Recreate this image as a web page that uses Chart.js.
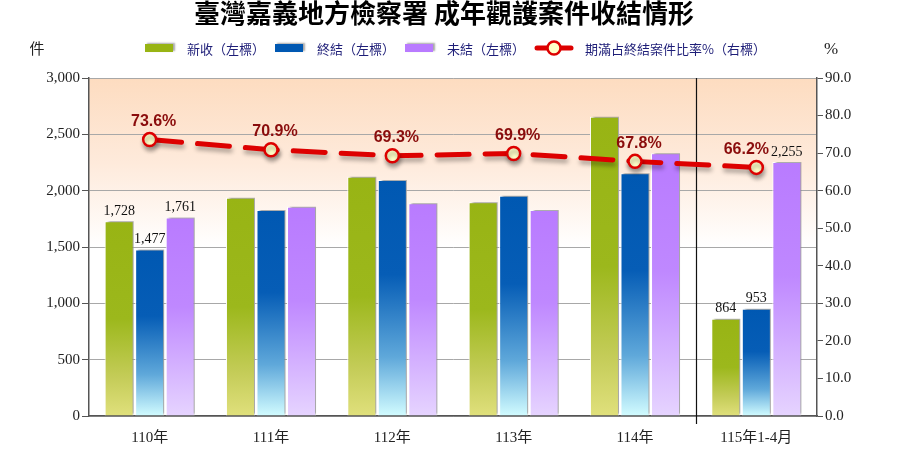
<!DOCTYPE html>
<html>
<head>
<meta charset="utf-8">
<script src="https://cdn.jsdelivr.net/npm/chart.js@4.4.1/dist/chart.umd.min.js"></script>
<style>
  html, body { margin: 0; padding: 0; background: #fff; }
  #wrap { width: 900px; height: 450px; }
</style>
</head>
<body>
<div id="wrap"><canvas id="chart" width="900" height="450"></canvas></div>
<script>
const categories = ['110年', '111年', '112年', '113年', '114年', '115年1-4月'];
const newCases = [1728, 1938, 2124, 1897, 2657, 864];
const closedCases = [1477, 1828, 2094, 1955, 2154, 953];
const pendingCases = [1761, 1857, 1889, 1828, 2332, 2255];
const expiredRatio = [73.6, 70.9, 69.3, 69.9, 67.8, 66.2];
const labelledIndexes = [0, 5]; // only these groups show their bar values

const titleText = '臺灣嘉義地方檢察署 成年觀護案件收結情形';
const seriesNames = ['新收（左標）', '終結（左標）', '未結（左標）', '期滿占終結案件比率%（右標）'];

const cjk = '"Noto Sans CJK TC", "Noto Sans", sans-serif';
const serif = '"Liberation Serif", "Noto Sans CJK TC", serif';

// gradient stops for each bar series, from bar top (0) to the axis (1)
const greenStops = [[0, '#98b414'], [0.5, '#9cb81c'], [0.8, '#c4cc58'], [1, '#e0e07c']];
const blueStops = [[0, '#0058b2'], [0.4, '#065db6'], [0.75, '#5fa8da'], [1, '#d2fcff']];
const purpleStops = [[0, '#b97bff'], [0.45, '#bf88ff'], [1, '#e6d4ff']];

function barFill(stops) {
    return function(context) {
        const chart = context.chart;
        const area = chart.chartArea;
        if (!area || context.type !== 'data') return stops[0][1];
        const yTop = chart.scales.y.getPixelForValue(context.raw);
        const g = chart.ctx.createLinearGradient(0, yTop, 0, area.bottom);
        stops.forEach(s => g.addColorStop(s[0], s[1]));
        return g;
    };
}

const chartDecor = {
    id: 'chartDecor',
    beforeDraw(chart) {
        const ctx = chart.ctx;
        const a = chart.chartArea;
        ctx.save();
        ctx.fillStyle = '#ffffff';
        ctx.fillRect(0, 0, chart.width, chart.height);
        const g = ctx.createLinearGradient(0, a.top, 0, a.bottom);
        g.addColorStop(0, '#fddcc0');
        g.addColorStop(0.25, '#feeadb');
        g.addColorStop(0.5, '#ffffff');
        g.addColorStop(1, '#ffffff');
        ctx.fillStyle = g;
        ctx.fillRect(a.left, a.top, a.right - a.left, a.bottom - a.top);
        ctx.restore();
    },
    beforeDatasetsDraw(chart) {
        // divider between the full years and the partial year
        const ctx = chart.ctx;
        const a = chart.chartArea;
        const x = Math.round(chart.scales.x.getPixelForValue(4.5)) + 0.5;
        ctx.save();
        ctx.strokeStyle = '#111';
        ctx.lineWidth = 1.2;
        ctx.beginPath();
        ctx.moveTo(x, a.top);
        ctx.lineTo(x, a.bottom + 8);
        ctx.stroke();
        ctx.restore();
    },
    beforeDatasetDraw(chart, args) {
        const ctx = chart.ctx;
        ctx.save();
        if (args.meta.type === 'bar') {
            ctx.shadowColor = 'rgba(0,0,0,0.35)';
            ctx.shadowOffsetX = 3;
            ctx.shadowOffsetY = -2;
            ctx.shadowBlur = 2;
        } else {
            ctx.shadowColor = 'rgba(0,0,0,0.3)';
            ctx.shadowOffsetX = 1;
            ctx.shadowOffsetY = 4;
            ctx.shadowBlur = 4;
        }
    },
    afterDatasetDraw(chart) {
        chart.ctx.restore();
    },
    afterDatasetsDraw(chart) {
        const ctx = chart.ctx;
        ctx.save();
        // bar values
        ctx.font = '14px ' + serif;
        ctx.fillStyle = '#111';
        ctx.textAlign = 'center';
        ctx.textBaseline = 'bottom';
        [0, 1, 2].forEach(di => {
            const meta = chart.getDatasetMeta(di);
            const data = chart.data.datasets[di].data;
            labelledIndexes.forEach(i => {
                const bar = meta.data[i];
                ctx.fillText(data[i].toLocaleString('en-US'), bar.x, bar.y - 3);
            });
        });
        // ratio labels, the last one nudged left so it clears the bar value
        const lineMeta = chart.getDatasetMeta(3);
        ctx.font = 'bold 16px "Liberation Sans", Arial, sans-serif';
        ctx.fillStyle = '#8a0c0c';
        ctx.textBaseline = 'middle';
        lineMeta.data.forEach((pt, i) => {
            const dx = i === lineMeta.data.length - 1 ? -10 : 4;
            ctx.fillText(expiredRatio[i].toFixed(1) + '%', pt.x + dx, pt.y - 18);
        });
        ctx.restore();
    },
    afterDraw(chart) {
        const ctx = chart.ctx;
        ctx.save();
        // title
        ctx.font = 'bold 26px ' + cjk;
        ctx.fillStyle = '#000';
        ctx.textAlign = 'center';
        ctx.textBaseline = 'middle';
        ctx.fillText(titleText, 444, 13);

        // axis units
        ctx.font = '15px ' + cjk;
        ctx.fillStyle = '#222';
        ctx.fillText('件', 37, 48);
        ctx.font = '17px ' + serif;
        ctx.fillText('%', 831, 50);

        // legend
        const y = 48;
        let x = 145;
        const boxColors = ['#98b414', '#0058b2', '#b97bff'];
        ctx.font = '13px ' + cjk;
        ctx.textAlign = 'left';
        seriesNames.forEach((name, i) => {
            if (i < 3) {
                ctx.save();
                ctx.shadowColor = 'rgba(0,0,0,0.35)';
                ctx.shadowOffsetX = 2;
                ctx.shadowOffsetY = -1;
                ctx.shadowBlur = 2;
                ctx.fillStyle = boxColors[i];
                ctx.fillRect(x, y - 4, 28, 8);
                ctx.restore();
                x += 28 + 14;
            } else {
                ctx.save();
                ctx.strokeStyle = '#dd0000';
                ctx.lineWidth = 5;
                ctx.lineCap = 'round';
                ctx.beginPath();
                ctx.moveTo(x + 2, y);
                ctx.lineTo(x + 36, y);
                ctx.stroke();
                ctx.beginPath();
                ctx.arc(x + 19, y, 6.5, 0, Math.PI * 2);
                ctx.fillStyle = '#ffffc8';
                ctx.fill();
                ctx.lineWidth = 2.5;
                ctx.stroke();
                ctx.restore();
                x += 38 + 12;
            }
            ctx.fillStyle = '#1e1e78';
            ctx.fillText(name, x, y + 1);
            x += ctx.measureText(name).width + 10;
        });
        ctx.restore();
    }
};

new Chart(document.getElementById('chart'), {
    data: {
        labels: categories,
        datasets: [
            {
                type: 'bar',
                label: seriesNames[0],
                data: newCases,
                yAxisID: 'y',
                backgroundColor: barFill(greenStops),
                borderColor: '#ffffff',
                borderWidth: 1,
                order: 1
            },
            {
                type: 'bar',
                label: seriesNames[1],
                data: closedCases,
                yAxisID: 'y',
                backgroundColor: barFill(blueStops),
                borderColor: '#ffffff',
                borderWidth: 1,
                order: 1
            },
            {
                type: 'bar',
                label: seriesNames[2],
                data: pendingCases,
                yAxisID: 'y',
                backgroundColor: barFill(purpleStops),
                borderColor: '#ffffff',
                borderWidth: 1,
                order: 1
            },
            {
                type: 'line',
                label: seriesNames[3],
                data: expiredRatio,
                yAxisID: 'y1',
                borderColor: '#dd0000',
                borderWidth: 5,
                borderDash: [32, 16],
                borderCapStyle: 'round',
                tension: 0,
                pointRadius: 6.5,
                pointBorderWidth: 2.5,
                pointBackgroundColor: '#ffffc8',
                pointBorderColor: '#dd0000',
                order: 0
            }
        ]
    },
    options: {
        responsive: false,
        animation: false,
        layout: { padding: { top: 78, left: 0, right: 0, bottom: 0 } },
        datasets: {
            bar: { categoryPercentage: 0.755, barPercentage: 0.95 }
        },
        plugins: {
            legend: { display: false },
            title: { display: false },
            tooltip: { enabled: false }
        },
        scales: {
            x: {
                grid: { display: false },
                border: { color: '#555', width: 1.5 },
                ticks: { font: { family: serif, size: 15 }, color: '#222', padding: 5 },
                afterFit(scale) { scale.height = 34; }
            },
            y: {
                position: 'left',
                min: 0,
                max: 3000,
                ticks: {
                    stepSize: 500,
                    font: { family: serif, size: 15 },
                    color: '#222',
                    padding: 2,
                    callback: v => v.toLocaleString('en-US')
                },
                grid: { color: '#a8a8a8', tickColor: '#555', tickLength: 7 },
                border: { color: '#555', width: 1.5 },
                afterFit(scale) { scale.width = 89; }
            },
            y1: {
                position: 'right',
                min: 0,
                max: 90,
                ticks: {
                    stepSize: 10,
                    font: { family: serif, size: 15 },
                    color: '#222',
                    padding: 2,
                    callback: v => v.toFixed(1)
                },
                grid: { drawOnChartArea: false, color: '#555', tickLength: 6 },
                border: { color: '#555', width: 1.5 },
                afterFit(scale) { scale.width = 83; }
            }
        }
    },
    plugins: [chartDecor]
});
</script>
</body>
</html>
